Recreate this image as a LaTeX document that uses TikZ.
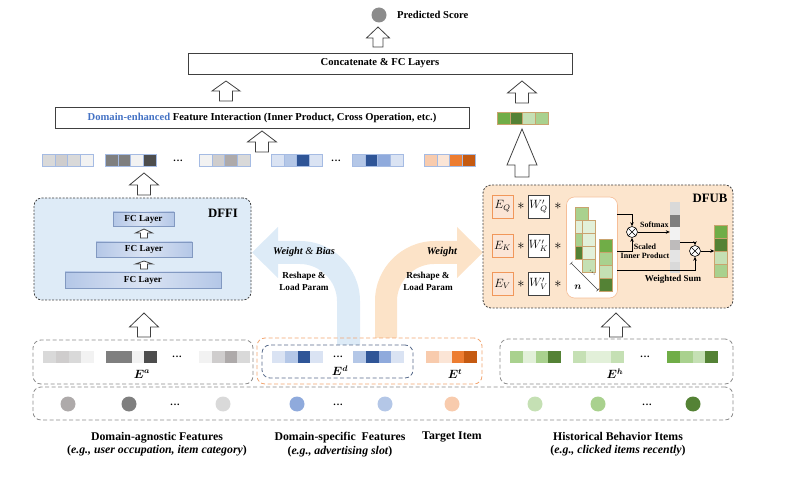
\documentclass[tikz,border=0pt]{standalone}
\usepackage{fontspec}
\setmainfont{Liberation Serif}
\usepackage{bm}
\usetikzlibrary{arrows.meta}

\definecolor{grayA}{HTML}{D9D9D9}
\definecolor{grayB}{HTML}{CFCDCD}
\definecolor{grayC}{HTML}{F2F2F2}
\definecolor{grayD}{HTML}{7F7F7F}
\definecolor{grayE}{HTML}{4D4D4D}
\definecolor{grayF}{HTML}{AEAAAA}
\definecolor{blueA}{HTML}{DAE3F3}
\definecolor{blueB}{HTML}{B4C7E7}
\definecolor{blueC}{HTML}{2F5597}
\definecolor{blueD}{HTML}{8FAADC}
\definecolor{orA}{HTML}{F8CBAD}
\definecolor{orB}{HTML}{FBE5D6}
\definecolor{orC}{HTML}{ED7D31}
\definecolor{orD}{HTML}{C55A11}
\definecolor{grnA}{HTML}{E2F0D9}
\definecolor{grnB}{HTML}{C5E0B4}
\definecolor{grnC}{HTML}{A9D18E}
\definecolor{grnD}{HTML}{70AD47}
\definecolor{grnE}{HTML}{548235}
\definecolor{textblue}{HTML}{4472C4}
\definecolor{dffifill}{HTML}{DEEBF7}
\definecolor{dfubfill}{HTML}{FCE5CD}
\definecolor{wbarrow}{HTML}{DDEBF7}
\definecolor{warrow}{HTML}{FCE3C8}
\definecolor{dashgray}{HTML}{8C8C8C}
\definecolor{linegray}{HTML}{404040}
\definecolor{tanline}{HTML}{C9A36E}

\begin{document}
\begin{tikzpicture}[
    x=1pt, y=-1pt,
    >={Stealth[length=4pt,width=3.5pt]},
    txt/.style={font=\fontsize{10.6}{12}\selectfont\bfseries},
    sm/.style={font=\fontsize{8}{9}\selectfont\bfseries, inner sep=1pt},
    mid/.style={font=\fontsize{9.2}{12}\selectfont\bfseries},
    big/.style={font=\fontsize{12.8}{14}\selectfont\bfseries},
    lbl/.style={font=\fontsize{11.8}{13.5}\selectfont\bfseries, align=center, anchor=north, inner sep=0},
    elbl/.style={font=\fontsize{12}{14}\selectfont, inner sep=0},
    ell/.style={font=\fontsize{10}{10}\selectfont\bfseries, inner sep=0},
    layerbox/.style={draw=linegray, line width=0.8pt, minimum height=21, inner sep=0, txt},
    dbox/.style={draw=dashgray, dash pattern=on 4pt off 2.5pt, line width=0.8pt, rounded corners=8, inner sep=0},
    fc/.style={draw=blueC!60, line width=0.5pt, left color=blueB, right color=blueB, middle color=blueA, inner sep=0, font=\fontsize{9.2}{11}\selectfont\bfseries},
    ebox/.style={draw=orC!80, fill=orB, line width=0.6pt, minimum width=21, minimum height=23, inner sep=0, font=\fontsize{11.5}{12}\selectfont},
    wbox/.style={ebox, draw=linegray, fill=white},
    star/.style={font=\fontsize{14}{14}\selectfont, inner sep=0},
    dot/.style={circle, inner sep=0, minimum size=15},
    otimes/.style={circle, draw, fill=white, inner sep=0, minimum size=11, line width=0.6pt,
        path picture={\draw (path picture bounding box.north west) -- (path picture bounding box.south east)
            (path picture bounding box.north east) -- (path picture bounding box.south west);}},
    cell/.style={},
    pics/uparr/.style n args={4}{code={
        \draw[fill=white, draw=linegray, line width=0.8pt] (-#1,0) -- (-#1,-#3) -- (-#2,-#3) -- (0,-#4)
            -- (#2,-#3) -- (#1,-#3) -- (#1,0) -- cycle;
    }},
    pics/rowvec/.style={code={
        \foreach \c [count=\i from 0] in {#1}
            \path[fill=\c, cell] (\i*12.8,-6) rectangle ++(12.8,12);
    }},
    pics/colvec/.style={code={
        \foreach \c [count=\i from 0] in {#1}
            \path[fill=\c, cell] (-6.5,\i*13) rectangle ++(13,13);
    }}
]
\useasboundingbox (0,0) rectangle (788,481);

% Parameter arrows
\fill[wbarrow] (337,345) -- (337,301) .. controls (337,281) and (320,264) .. (300,264)
    -- (278,264) -- (278,278) -- (252,252.5) -- (278,227) -- (278,241) -- (300,241)
    .. controls (333,241) and (360,268) .. (360,301) -- (360,345) -- cycle;
\fill[warrow] (375,338) -- (375,301) .. controls (375,268) and (402,241) .. (435,241)
    -- (457,241) -- (457,227) -- (483,252.5) -- (457,278) -- (457,264) -- (434,264)
    .. controls (414,264) and (397,281) .. (397,301) -- (397,338) -- cycle;
\node[font=\fontsize{10.3}{12}\selectfont\itshape] (wb) at (304,252) {\textbf{Weight} \& \textbf{Bias}};
\node[mid, align=center] (rl1) at (304,281) {Reshape \&\\Load Param};
\node[font=\fontsize{10.5}{12}\selectfont\itshape\bfseries] (wt) at (442,252) {Weight};
\node[mid, align=center] (rl2) at (428,281) {Reshape \&\\Load Param};

% Output part
\node[circle, fill=grayD!90, minimum size=15, inner sep=0] (score) at (379,15) {};
\node[txt, anchor=west, inner sep=0] (scoretxt) at (397,15) {Predicted Score};
\pic at (378,47) {uparr={5}{11.5}{9}{20}};
\node[layerbox, minimum width=384] (concat) at (380,63.5) {Concatenate \& FC Layers};
\pic at (226,101) {uparr={6.5}{14}{10}{20}};
\pic at (522,103) {uparr={6.5}{14.5}{10}{22}};
\node[layerbox, minimum width=414] (inter) at (262,117.5) {\textcolor{textblue}{Domain-enhanced} Feature Interaction (Inner Product, Cross Operation, etc.)};
\pic[cell/.style={draw=tanline, line width=0.6pt}] at (497,118.5) {rowvec={grnD,grnE,grnB,grnC}};
\pic at (262,152) {uparr={6.5}{14.5}{10}{21}};
\pic at (522,177) {uparr={7}{15}{12}{48}};

% Enhanced embeddings
\begin{scope}[cell/.style={draw=blueD!80, line width=0.4pt}]
\pic at (42,160) {rowvec={grayA,grayB,grayA,grayC}};
\pic at (105,160) {rowvec={grayD,grayD,grayC,grayE}};
\pic at (199,160) {rowvec={grayC,grayB,grayF,grayA}};
\pic at (271,160) {rowvec={blueA,blueB,blueC,blueA}};
\pic at (352,160) {rowvec={blueB,blueC,blueD,blueA}};
\pic at (424,160) {rowvec={orA,orB,orC,orD}};
\end{scope}
\node[ell] (dt1) at (178,161) {.\kern0.8pt.\kern0.8pt.};
\node[ell] (dt2) at (336,161) {.\kern0.8pt.\kern0.8pt.};
\pic at (144,195) {uparr={6.5}{14.5}{10}{22}};

% DFFI
\node[dbox, draw=linegray, dash pattern=on 2pt off 1.5pt, fill=dffifill, minimum width=217, minimum height=102] (dffi) at (142.5,249) {};
\node[big] (dffitxt) at (223,213) {DFFI};
\node[fc, minimum width=61, minimum height=14] (fc3) at (143.5,219) {FC Layer};
\node[fc, minimum width=96, minimum height=15] (fc2) at (144,249.5) {FC Layer};
\node[fc, minimum width=156, minimum height=16] (fc1) at (143,280) {FC Layer};
\pic at (144,238) {uparr={3.5}{8.5}{5}{9}};
\pic at (144,269) {uparr={3.5}{8.5}{5}{8}};

% DFUB
\node[dbox, draw=linegray, dash pattern=on 2pt off 1.5pt, fill=dfubfill, minimum width=250, minimum height=123] (dfub) at (608,246.5) {};
\node[big] (dfubtxt) at (710,198) {DFUB};
\foreach \n/\y/\s in {q/206.5/Q, k/246/K, v/284/V} {
    \node[ebox] (e\n) at (502.5,\y) {$E_\s$};
    \node[star] (s\n1) at (521,\y) {$\ast$};
    \node[wbox] (w\n) at (538.5,\y) {$W'_\s$};
    \node[star] (s\n2) at (558,\y) {$\ast$};
}
\node[draw=orC!50, fill=white, rounded corners=8, line width=0.6pt, minimum width=51, minimum height=101, inner sep=0] (panel) at (592,247.5) {};
\begin{scope}[cell/.style={draw=tanline, line width=0.4pt}]
\pic at (581.5,207) {colvec={grnC,grnA,grnC,grnE}};
\pic at (589,220) {colvec={grnA,grnA,grnA,grnB}};
\pic at (605.5,239) {colvec={grnD,grnC,grnB,grnE}};
\end{scope}
\draw[linegray, line width=0.4pt, {Bar[width=4pt]}-{Bar[width=4pt]}] (571,263) -- (598,290);
\draw[dotted, line width=0.7pt] (590,270) -- (595,275);
\node[font=\fontsize{10}{12}\selectfont, inner sep=0] (nlbl) at (578,287) {$\bm{n}$};
\node[otimes] (sp) at (632,232) {};
\node[otimes] (ws) at (695,251) {};
\node[inner sep=0, minimum width=10, minimum height=71] (att) at (675,237.5) {};
\foreach \ya/\yb/\c in {202/215/grayA, 215/227/grayD, 227/240/grayC, 240/250/grayF!80, 250/262/grayA!70, 262/273/grayA}
    \fill[\c] (670,\ya) rectangle (680,\yb);
\node[inner sep=0, minimum width=13, minimum height=52] (out) at (721,251) {};
\pic[cell/.style={draw=tanline, line width=0.6pt}] at (721,225) {colvec={grnD,grnE,grnB,grnC}};
\coordinate (pq) at (617,214);
\coordinate (pk) at (617,251);
\coordinate (pv) at (617,270);
\coordinate (ao) at (680,242);
\draw[->, line width=0.6pt] (pq) -| (sp);
\draw[->, line width=0.6pt] (pk) -| (sp);
\draw[->, line width=0.6pt] (sp) -- (sp -| att.west);
\draw[->, line width=0.6pt] (ao) -| (ws);
\draw[->, line width=0.6pt] (pv) -| (ws);
\draw[->, line width=0.6pt] (ws) -- (ws -| out.west);
\node[sm, anchor=west] (smx) at (639,225) {Softmax};
\node[sm, align=center] (sip) at (645,251.5) {Scaled\\Inner Product};
\node[sm, font=\fontsize{9}{10}\selectfont\bfseries] (wsum) at (673,279) {Weighted Sum};

% Raw embeddings
\pic at (144,337) {uparr={6.5}{14.5}{10}{24}};
\pic at (616,337) {uparr={6.5}{14.5}{10}{24}};
\node[dbox, minimum width=220, minimum height=44] (boxa) at (143,362) {};
\node[dbox, draw=orC!70, minimum width=225, minimum height=46] (boxdt) at (369.5,361) {};
\node[dbox, draw=blueC!50!gray, minimum width=151, minimum height=33] (boxd) at (337.5,361.5) {};
\node[dbox, minimum width=233, minimum height=45] (boxh) at (616.5,361.5) {};
\pic at (43,357) {rowvec={grayA,grayB,grayA,grayC}};
\pic at (106,357) {rowvec={grayD,grayD,grayC,grayE}};
\pic at (199,357) {rowvec={grayC,grayB,grayF,grayA}};
\pic at (272,357) {rowvec={blueA,blueB,blueC,blueA}};
\pic at (353,357) {rowvec={blueB,blueC,blueD,blueA}};
\pic at (426,357) {rowvec={orA,orB,orC,orD}};
\pic at (510,357) {rowvec={grnC,grnA,grnC,grnE}};
\pic at (573,357) {rowvec={grnB,grnA,grnA,grnB}};
\pic at (667,357) {rowvec={grnD,grnC,grnB,grnE}};
\node[ell] (da) at (177,357) {.\kern0.8pt.\kern0.8pt.};
\node[ell] (dd) at (338,357) {.\kern0.8pt.\kern0.8pt.};
\node[ell] (dh) at (645,357) {.\kern0.8pt.\kern0.8pt.};
\node[elbl] (ea) at (142,374) {$\bm{E}^{\bm{a}}$};
\node[elbl] (ed) at (340,371) {$\bm{E}^{\bm{d}}$};
\node[elbl] (et) at (455,374) {$\bm{E}^{\bm{t}}$};
\node[elbl] (eh) at (615,374) {$\bm{E}^{\bm{h}}$};

% Input features
\node[dbox, minimum width=700, minimum height=33] (inputs) at (383,403.5) {};
\foreach \x/\c in {68/grayF, 129/grayD, 223/grayA, 297/blueD, 385/blueB, 452/orA, 535/grnB, 598/grnC, 693/grnE}
    \node[dot, fill=\c] (f\x) at (\x,404) {};
\foreach \x in {175,338,647}
    \node[ell] (fd\x) at (\x,405) {.\kern0.8pt.\kern0.8pt.};
\node[lbl] (agn) at (157,432) {Domain-agnostic Features\\(\textit{e.g., user occupation, item category})};
\node[lbl] (spc) at (340,432) {Domain-specific~~Features\\(\textit{e.g., advertising slot})};
\node[lbl] (tgt) at (452,432) {Target Item};
\node[lbl] (his) at (618,432) {Historical Behavior Items\\(\textit{e.g., clicked items recently})};
\end{tikzpicture}
\end{document}
